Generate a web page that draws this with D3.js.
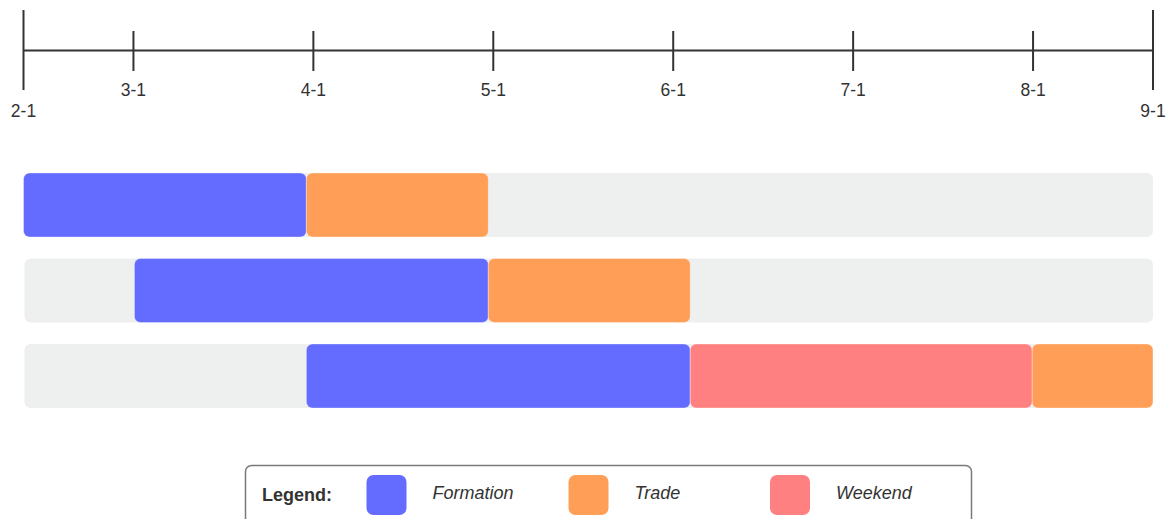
<!DOCTYPE html>
<html>
<head>
<meta charset="utf-8">
<script src="https://cdn.jsdelivr.net/npm/d3@7"></script>
<style>
  html, body { margin: 0; padding: 0; background: #ffffff; }
  svg { display: block; font-family: "Liberation Sans", Arial, sans-serif; }
</style>
</head>
<body>
<svg id="chart" width="1168" height="519"></svg>
<script>
// Timeline axis: tick labels and their positions on the timeline (in timeline units)
const tickLabels = ["2-1", "3-1", "4-1", "5-1", "6-1", "7-1", "8-1", "9-1"];
const tickValues = [0, 11, 29, 47, 65, 83, 101, 113];

// Schedule rows
const rows = ["Row 1", "Row 2", "Row 3"];

// Phase spans per row, [start, end] in timeline units (null = phase absent)
const formationSpans = [[0, 28.3], [11.1, 46.5], [28.3, 66.7]];
const tradeSpans     = [[28.3, 46.5], [46.5, 66.7], [100.9, 113]];
const weekendSpans   = [null, null, [66.7, 100.9]];

const phaseNames  = ["Formation", "Trade", "Weekend"];
const phaseColors = ["#646bff", "#ff9e57", "#ff8080"];

const svg = d3.select("#chart");
const textColor = "#333333";

const x = d3.scaleLinear().domain([0, 113]).range([23.5, 1153]);
const y = d3.scaleBand().domain(rows).range([173, 408]).paddingInner(0.2515).paddingOuter(0);

// ---- Axis ----
const axisY = 50.5;
const axis = svg.append("g").attr("class", "timeline-axis");
axis.append("line")
  .attr("x1", x(tickValues[0])).attr("x2", x(tickValues[tickValues.length - 1]))
  .attr("y1", axisY).attr("y2", axisY)
  .attr("stroke", "#333").attr("stroke-width", 2);

const lastIdx = tickValues.length - 1;
const ticks = axis.selectAll("g.tick")
  .data(tickValues.map((v, i) => ({ v, label: tickLabels[i], major: i === 0 || i === lastIdx })))
  .join("g").attr("class", "tick")
  .attr("transform", d => `translate(${x(d.v)},0)`);

ticks.append("line")
  .attr("y1", d => d.major ? 10 : 31)
  .attr("y2", d => d.major ? 90 : 71)
  .attr("stroke", "#333").attr("stroke-width", 2);

ticks.append("text")
  .attr("y", d => d.major ? 116.5 : 95.5)
  .attr("text-anchor", "middle")
  .attr("font-size", 17.5)
  .attr("fill", textColor)
  .text(d => d.label);

// ---- Rows ----
const rowG = svg.append("g").attr("class", "rows");

// background track for each row
rowG.selectAll("rect.track")
  .data(rows)
  .join("rect").attr("class", "track")
  .attr("x", x(0) + 1).attr("width", x(113) - x(0) - 1)
  .attr("y", d => y(d)).attr("height", y.bandwidth())
  .attr("rx", 6).attr("fill", "#eef0ef");

// phase segments
const segments = [];
[formationSpans, tradeSpans, weekendSpans].forEach((spans, p) => {
  spans.forEach((s, r) => {
    if (s) segments.push({ row: rows[r], start: s[0], end: s[1], phase: p });
  });
});

rowG.selectAll("rect.segment")
  .data(segments)
  .join("rect").attr("class", "segment")
  .attr("x", d => x(d.start))
  .attr("width", d => x(d.end) - x(d.start))
  .attr("y", d => y(d.row)).attr("height", y.bandwidth())
  .attr("rx", 6)
  .attr("fill", d => phaseColors[d.phase])
  .attr("stroke", "rgba(255,255,255,0.35)").attr("stroke-width", 1);

// ---- Legend ----
const legend = svg.append("g").attr("class", "legend");
legend.append("rect")
  .attr("x", 245.5).attr("y", 465.5)
  .attr("width", 726).attr("height", 90)
  .attr("rx", 6)
  .attr("fill", "#ffffff").attr("stroke", "#7a7a7a").attr("stroke-width", 1.5);

legend.append("text")
  .attr("x", 262).attr("y", 500.5)
  .attr("font-size", 18).attr("font-weight", "bold")
  .attr("fill", textColor)
  .text("Legend:");

const swatchX = [366.5, 568.5, 770];
const legendItems = legend.selectAll("g.item")
  .data(phaseNames.map((n, i) => ({ name: n, color: phaseColors[i], sx: swatchX[i] })))
  .join("g").attr("class", "item");

legendItems.append("rect")
  .attr("x", d => d.sx).attr("y", 475)
  .attr("width", 40).attr("height", 40)
  .attr("rx", 7)
  .attr("fill", d => d.color);

legendItems.append("text")
  .attr("x", d => d.sx + 66).attr("y", 498.5)
  .attr("font-size", 18).attr("font-style", "italic")
  .attr("fill", textColor)
  .text(d => d.name);
</script>
</body>
</html>
